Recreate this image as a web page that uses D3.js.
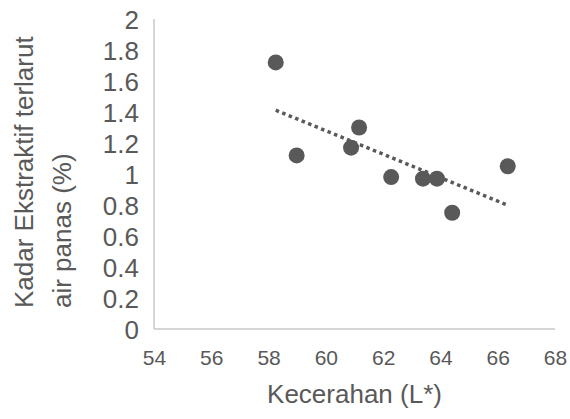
<!DOCTYPE html>
<html>
<head>
<meta charset="utf-8">
<script src="https://cdn.jsdelivr.net/npm/d3@7"></script>
<style>
  body { margin: 0; background: #fff; }
  text { font-family: "Liberation Sans", Arial, sans-serif; fill: #595959; }
</style>
</head>
<body>
<div id="chart"></div>
<script>
// brightness (L*) vs hot-water extractive content (%)
const kecerahan = [58.25, 58.98, 60.88, 61.16, 62.28, 63.39, 63.88, 64.41, 66.35];
const kadarEkstraktif = [1.72, 1.12, 1.17, 1.30, 0.98, 0.97, 0.97, 0.75, 1.05];
const xTicks = [54, 56, 58, 60, 62, 64, 66, 68];
const yTicks = [0, 0.2, 0.4, 0.6, 0.8, 1, 1.2, 1.4, 1.6, 1.8, 2];
const yTitleLines = ["Kadar Ekstraktif terlarut", "air panas (%)"];
const xTitle = "Kecerahan (L*)";

const width = 570, height = 419;
const margin = {top: 19, right: 15, bottom: 90, left: 154};
const innerWidth = width - margin.left - margin.right;
const innerHeight = height - margin.top - margin.bottom;

const svg = d3.select("#chart").append("svg")
    .attr("width", width)
    .attr("height", height);

const chart = svg.append("g")
    .attr("transform", `translate(${margin.left}, ${margin.top})`);

const x = d3.scaleLinear().domain([54, 68]).range([0, innerWidth]);
const y = d3.scaleLinear().domain([0, 2]).range([innerHeight, 0]);

const xAxis = d3.axisBottom(x)
    .tickValues(xTicks)
    .tickSize(0)
    .tickPadding(21)
    .tickFormat(d => d);

const yAxis = d3.axisLeft(y)
    .tickValues(yTicks)
    .tickSize(0)
    .tickPadding(15)
    .tickFormat(d => d);

const gx = chart.append("g")
    .attr("transform", `translate(0, ${innerHeight})`)
    .call(xAxis);
gx.selectAll("text").style("font-size", "21px");

const gy = chart.append("g").call(yAxis);
gy.selectAll("text").style("font-size", "26px").attr("dy", "0.36em");

svg.selectAll(".domain").remove();

// only left and bottom axis lines
chart.append("line")
    .attr("x1", 0).attr("x2", 0)
    .attr("y1", 0).attr("y2", innerHeight)
    .attr("stroke", "#c8c8c8").attr("stroke-width", 1.5);
chart.append("line")
    .attr("x1", 0).attr("x2", innerWidth)
    .attr("y1", innerHeight).attr("y2", innerHeight)
    .attr("stroke", "#c8c8c8").attr("stroke-width", 1.5);

// linear trendline (least squares)
const points = kecerahan.map((v, i) => [v, kadarEkstraktif[i]]);
const mx = d3.mean(kecerahan), my = d3.mean(kadarEkstraktif);
const slope = d3.sum(points, p => (p[0] - mx) * (p[1] - my)) /
    d3.sum(points, p => (p[0] - mx) ** 2);
const intercept = my - slope * mx;
const trendX = d3.extent(kecerahan);

chart.append("path")
    .datum(trendX.map(v => [v, intercept + slope * v]))
    .attr("fill", "none")
    .attr("stroke", "#595959")
    .attr("stroke-width", 3.5)
    .attr("stroke-dasharray", "3.5,3.5")
    .attr("d", d3.line().x(d => x(d[0])).y(d => y(d[1])));

chart.selectAll("circle")
    .data(points)
    .enter().append("circle")
    .attr("cx", d => x(d[0]))
    .attr("cy", d => y(d[1]))
    .attr("r", 8)
    .attr("fill", "#595959");

// axis titles
svg.append("text")
    .attr("x", margin.left + innerWidth / 2)
    .attr("y", 403)
    .attr("text-anchor", "middle")
    .style("font-size", "26px")
    .text(xTitle);

svg.append("g")
    .attr("transform", "translate(0, 308) rotate(-90)")
    .selectAll("text")
    .data(yTitleLines)
    .enter().append("text")
    .attr("x", 0)
    .attr("y", (d, i) => 33 + i * 38)
    .attr("text-anchor", "start")
    .style("font-size", "26px")
    .text(d => d);
</script>
</body>
</html>
